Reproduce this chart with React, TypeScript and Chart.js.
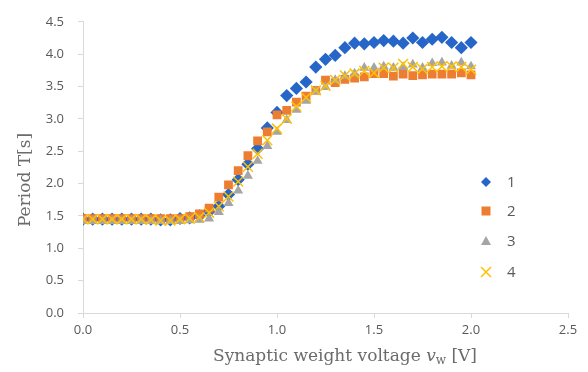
import React, { useEffect, useRef } from "react";
import { Chart, registerables } from "chart.js";

Chart.register(...registerables);

const voltage = [
  0.0, 0.05, 0.1, 0.15, 0.2, 0.25, 0.3, 0.35, 0.4, 0.45,
  0.5, 0.55, 0.6, 0.65, 0.7, 0.75, 0.8, 0.85, 0.9, 0.95,
  1.0, 1.05, 1.1, 1.15, 1.2, 1.25, 1.3, 1.35, 1.4, 1.45,
  1.5, 1.55, 1.6, 1.65, 1.7, 1.75, 1.8, 1.85, 1.9, 1.95, 2.0,
];

const series1 = [
  1.45, 1.45, 1.45, 1.45, 1.45, 1.45, 1.45, 1.45, 1.44, 1.44,
  1.46, 1.47, 1.5, 1.57, 1.65, 1.83, 2.06, 2.3, 2.54, 2.86,
  3.1, 3.36, 3.47, 3.57, 3.8, 3.92, 3.98, 4.1, 4.17, 4.16,
  4.18, 4.21, 4.2, 4.17, 4.25, 4.18, 4.23, 4.26, 4.18, 4.1, 4.18,
];

const series2 = [
  1.46, 1.46, 1.46, 1.46, 1.46, 1.46, 1.46, 1.46, 1.46, 1.46,
  1.46, 1.49, 1.53, 1.62, 1.79, 1.98, 2.2, 2.43, 2.66, 2.8,
  3.06, 3.13, 3.26, 3.35, 3.44, 3.6, 3.56, 3.61, 3.63, 3.65,
  3.7, 3.7, 3.66, 3.69, 3.67, 3.68, 3.69, 3.69, 3.69, 3.71, 3.68,
];

const series3 = [
  1.42, 1.42, 1.42, 1.42, 1.42, 1.42, 1.42, 1.42, 1.42, 1.42,
  1.42, 1.43, 1.44, 1.46, 1.56, 1.7, 1.89, 2.12, 2.35, 2.58,
  2.8, 2.98, 3.14, 3.28, 3.43, 3.49, 3.6, 3.66, 3.7, 3.79,
  3.79, 3.81, 3.79, 3.8, 3.84, 3.79, 3.86, 3.87, 3.82, 3.87, 3.81,
];

const series4 = [
  1.45, 1.45, 1.45, 1.45, 1.45, 1.45, 1.45, 1.44, 1.43, 1.43,
  1.45, 1.46, 1.48, 1.55, 1.65, 1.8, 2.03, 2.26, 2.46, 2.67,
  2.85, 3.0, 3.19, 3.33, 3.44, 3.51, 3.6, 3.67, 3.7, 3.74,
  3.71, 3.79, 3.79, 3.85, 3.8, 3.77, 3.8, 3.81, 3.81, 3.8, 3.76,
];

const seriesNames = ["1", "2", "3", "4"];
const xTickMax = 2.5;
const yTickMax = 4.5;
const tickStep = 0.5;

const COLORS = ["#2566c8", "#ED7D31", "#A5A5A5", "#FFC000"];
const AXIS_COLOR = "#d9d9d9";
const TEXT_COLOR = "#595959";
const TITLE_COLOR = "#6b6b6b";
const SERIF = '"DejaVu Serif", "Liberation Serif", serif';
const SANS = '"Open Sans", "Noto Sans", sans-serif';

function drawMarker(ctx: CanvasRenderingContext2D, kind: number, x: number, y: number) {
  ctx.save();
  ctx.fillStyle = COLORS[kind];
  ctx.strokeStyle = COLORS[kind];
  ctx.beginPath();
  if (kind === 0) {
    const s = 5;
    ctx.moveTo(x, y - s);
    ctx.lineTo(x + s, y);
    ctx.lineTo(x, y + s);
    ctx.lineTo(x - s, y);
    ctx.closePath();
    ctx.fill();
  } else if (kind === 1) {
    ctx.rect(x - 4.5, y - 4.5, 9, 9);
    ctx.fill();
  } else if (kind === 2) {
    ctx.moveTo(x, y - 5);
    ctx.lineTo(x + 5, y + 4);
    ctx.lineTo(x - 5, y + 4);
    ctx.closePath();
    ctx.fill();
  } else {
    ctx.lineWidth = 1.5;
    ctx.moveTo(x - 5, y - 5);
    ctx.lineTo(x + 5, y + 5);
    ctx.moveTo(x + 5, y - 5);
    ctx.lineTo(x - 5, y + 5);
    ctx.stroke();
  }
  ctx.restore();
}

const overlayPlugin = {
  id: "overlay",
  afterDraw(chart: any) {
    const ctx: CanvasRenderingContext2D = chart.ctx;
    // Legend
    const legendY = [182, 211, 241, 272];
    seriesNames.forEach((name, i) => {
      drawMarker(ctx, i, 486, legendY[i]);
      ctx.save();
      ctx.fillStyle = TEXT_COLOR;
      ctx.font = `15px ${SANS}`;
      ctx.textAlign = "left";
      ctx.textBaseline = "middle";
      ctx.fillText(name, 507, legendY[i] + 1);
      ctx.restore();
    });

    // X axis title with italic v and subscript w
    ctx.save();
    ctx.fillStyle = TITLE_COLOR;
    ctx.textBaseline = "alphabetic";
    const mainFont = `17px ${SERIF}`;
    const italicFont = `italic 17px ${SERIF}`;
    const subFont = `12px ${SERIF}`;
    const parts = [
      { t: "Synaptic weight voltage ", f: mainFont, dy: 0 },
      { t: "v", f: italicFont, dy: 0 },
      { t: "w", f: subFont, dy: 3 },
      { t: " [V]", f: mainFont, dy: 0 },
    ];
    let total = 0;
    parts.forEach((p) => {
      ctx.font = p.f;
      total += ctx.measureText(p.t).width;
    });
    let x = 345 - total / 2;
    const baseY = 361;
    parts.forEach((p) => {
      ctx.font = p.f;
      ctx.textAlign = "left";
      ctx.fillText(p.t, x, baseY + p.dy);
      x += ctx.measureText(p.t).width;
    });
    ctx.restore();

    // Y axis title
    ctx.save();
    ctx.fillStyle = TITLE_COLOR;
    ctx.font = `17px ${SERIF}`;
    ctx.translate(26, 180);
    ctx.rotate(-Math.PI / 2);
    ctx.textAlign = "center";
    ctx.textBaseline = "middle";
    ctx.fillText("Period T[s]", 0, 0);
    ctx.restore();
  },
};

function toPoints(values: number[]) {
  return values.map((v, i) => ({ x: voltage[i], y: v }));
}

export default function App() {
  const canvasRef = useRef<HTMLCanvasElement | null>(null);

  useEffect(() => {
    document.body.style.margin = "0";
    const canvas = canvasRef.current;
    if (!canvas) return;
    const styles = [
      { pointStyle: "rectRot", radius: 6.6, order: 3 },
      { pointStyle: "rect", radius: 6.2, order: 2 },
      { pointStyle: "triangle", radius: 5.8, order: 1 },
      { pointStyle: "crossRot", radius: 7, order: 0 },
    ];
    const all = [series1, series2, series3, series4];
    const chart = new Chart(canvas, {
      type: "scatter",
      data: {
        datasets: all.map((vals, i) => ({
          label: seriesNames[i],
          data: toPoints(vals),
          pointStyle: styles[i].pointStyle as any,
          pointRadius: styles[i].radius,
          pointHoverRadius: styles[i].radius,
          backgroundColor: COLORS[i],
          borderColor: COLORS[i],
          pointBorderWidth: i === 3 ? 1.5 : 0,
          showLine: false,
          order: styles[i].order,
        })),
      },
      options: {
        animation: false,
        responsive: false,
        maintainAspectRatio: false,
        layout: { padding: { top: 18, right: 20, left: 0, bottom: 0 } },
        plugins: {
          legend: { display: false },
          tooltip: { enabled: false },
          title: { display: false },
        },
        scales: {
          x: {
            type: "linear",
            min: 0,
            max: xTickMax,
            afterFit: (scale: any) => {
              scale.height = 59;
            },
            ticks: {
              stepSize: tickStep,
              color: TEXT_COLOR,
              font: { family: SANS, size: 13 },
              padding: 4,
              callback: (v: any) => Number(v).toFixed(1),
            },
            grid: {
              drawOnChartArea: false,
              drawTicks: true,
              tickLength: 5,
              color: AXIS_COLOR,
            },
            border: { color: AXIS_COLOR, width: 1 },
          },
          y: {
            type: "linear",
            min: 0,
            max: yTickMax,
            afterFit: (scale: any) => {
              scale.width = 83;
            },
            ticks: {
              stepSize: tickStep,
              color: TEXT_COLOR,
              font: { family: SANS, size: 13 },
              padding: 14,
              callback: (v: any) => Number(v).toFixed(1),
            },
            grid: {
              drawOnChartArea: false,
              drawTicks: true,
              tickLength: 5,
              color: AXIS_COLOR,
            },
            border: { color: AXIS_COLOR, width: 1 },
          },
        },
      },
      plugins: [overlayPlugin],
    });
    return () => chart.destroy();
  }, []);

  return (
    <div style={{ width: 588, height: 372, background: "#fff" }}>
      <canvas ref={canvasRef} width={588} height={372} style={{ display: "block" }} />
    </div>
  );
}
